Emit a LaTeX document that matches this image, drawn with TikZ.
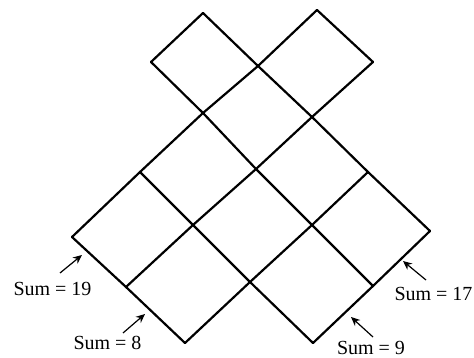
\documentclass[tikz,border=0pt]{standalone}
\usepackage{fontspec}
\setmainfont{Liberation Serif}
\usetikzlibrary{arrows.meta}
\begin{document}
\begin{tikzpicture}[x=1pt,y=-1pt,
  grid/.style={line width=2.2pt,line cap=round,line join=round},
  lbl/.style={font=\fontsize{20}{22}\selectfont,inner sep=0pt,anchor=base},
  ptr/.style={line width=1.2pt,-{Stealth[length=9pt,width=8pt]}}]
\useasboundingbox (0,0) rectangle (474,358);
% lattice points P(i,j)
\coordinate (p00) at (203,13);
\coordinate (p01) at (151,62);
\coordinate (p1m) at (317,10);
\coordinate (p2m) at (373,62);
\coordinate (p10) at (258,66);
\coordinate (p20) at (312,117);
\coordinate (p11) at (203,113);
\coordinate (p30) at (368,172);
\coordinate (p21) at (256,169);
\coordinate (p12) at (140,172);
\coordinate (p40) at (430,231);
\coordinate (p31) at (312,225);
\coordinate (p22) at (193,225);
\coordinate (p13) at (72,237);
\coordinate (p41) at (373,286);
\coordinate (p32) at (250,282);
\coordinate (p23) at (126,287);
\coordinate (p42) at (313,343);
\coordinate (p33) at (185,343);
% down-right lines
\draw[grid] (p1m) -- (p2m);
\draw[grid] (p00) -- (p10) -- (p20) -- (p30) -- (p40);
\draw[grid] (p01) -- (p11) -- (p21) -- (p31) -- (p41);
\draw[grid] (p12) -- (p22) -- (p32) -- (p42);
\draw[grid] (p13) -- (p23) -- (p33);
% down-left lines
\draw[grid] (p00) -- (p01);
\draw[grid] (p1m) -- (p10) -- (p11) -- (p12) -- (p13);
\draw[grid] (p2m) -- (p20) -- (p21) -- (p22) -- (p23);
\draw[grid] (p30) -- (p31) -- (p32) -- (p33);
\draw[grid] (p40) -- (p41) -- (p42);
% labels
\node[lbl] (s19) at (52.5,295) {Sum = 19};
\node[lbl] (s8) at (107.5,349) {Sum = 8};
\node[lbl] (s17) at (433.5,300) {Sum = 17};
\node[lbl] (s9) at (371,354) {Sum = 9};
\coordinate (a19s) at (60,273); \coordinate (a19e) at (82,255);
\coordinate (a8s) at (123,333); \coordinate (a8e) at (145,314);
\coordinate (a17s) at (426,280); \coordinate (a17e) at (403,261);
\coordinate (a9s) at (373,337); \coordinate (a9e) at (351,317);
\draw[ptr] (a19s) -- (a19e);
\draw[ptr] (a8s) -- (a8e);
\draw[ptr] (a17s) -- (a17e);
\draw[ptr] (a9s) -- (a9e);
\end{tikzpicture}
\end{document}
